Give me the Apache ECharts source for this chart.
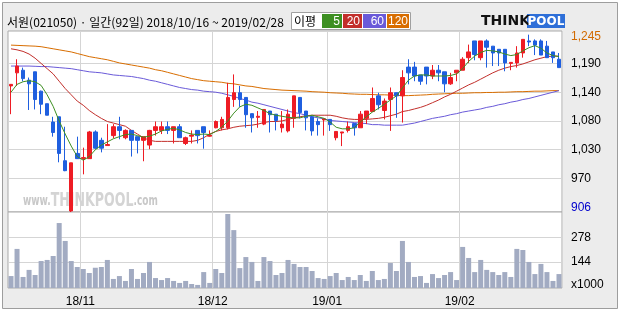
<!DOCTYPE html>
<html><head><meta charset="utf-8">
<script src="https://cdn.jsdelivr.net/npm/echarts/dist/echarts.min.js"></script>
<style>html,body{margin:0;padding:0;background:#fff}#c{width:620px;height:310px}</style>
</head><body><div id="c"></div>
<script>
const dates = [
 '2018/10/16','2018/10/17','2018/10/18','2018/10/19','2018/10/22','2018/10/23','2018/10/24','2018/10/25','2018/10/26','2018/10/29','2018/10/30','2018/10/31',
 '2018/11/01','2018/11/02','2018/11/05','2018/11/06','2018/11/07','2018/11/08','2018/11/09','2018/11/12','2018/11/13','2018/11/14','2018/11/15','2018/11/16','2018/11/19','2018/11/20','2018/11/21','2018/11/22','2018/11/23','2018/11/26','2018/11/27','2018/11/28','2018/11/29','2018/11/30',
 '2018/12/03','2018/12/04','2018/12/05','2018/12/06','2018/12/07','2018/12/10','2018/12/11','2018/12/12','2018/12/13','2018/12/14','2018/12/17','2018/12/18','2018/12/19','2018/12/20','2018/12/21','2018/12/24','2018/12/26','2018/12/27','2018/12/28',
 '2019/01/02','2019/01/03','2019/01/04','2019/01/07','2019/01/08','2019/01/09','2019/01/10','2019/01/11','2019/01/14','2019/01/15','2019/01/16','2019/01/17','2019/01/18','2019/01/21','2019/01/22','2019/01/23','2019/01/24','2019/01/25','2019/01/28','2019/01/29','2019/01/30','2019/01/31',
 '2019/02/01','2019/02/07','2019/02/08','2019/02/11','2019/02/12','2019/02/13','2019/02/14','2019/02/15','2019/02/18','2019/02/19','2019/02/20','2019/02/21','2019/02/22','2019/02/25','2019/02/26','2019/02/27','2019/02/28'
];
const opens = [1147,1172,1177,1158,1174,1137,1113,1078,1088,1004,
 908,1018,1008,1008,1059,1043,1033,1052,1069,1048,
 1062,1050,1043,1034,1062,1062,1069,1062,1069,1037,
 1051,1062,1069,1051,1067,1067,1067,1121,1134,1125,
 1094,1087,1074,1099,1093,1067,1061,1085,1125,1099,
 1088,1079,1082,1083,1048,1057,1062,1075,1067,1085,
 1098,1128,1100,1121,1134,1128,1183,1183,1168,1183,
 1166,1177,1174,1151,1172,1177,1201,1233,1201,1233,
 1223,1217,1217,1190,1191,1210,1233,1233,1233,1223,
 1212,1198];
const closes = [1150,1185,1161,1151,1121,1112,1091,1058,1018,985,
 1000,1008,1010,1059,1028,1028,1035,1069,1062,1062,
 1043,1043,1050,1062,1069,1069,1062,1069,1048,1048,
 1053,1052,1058,1053,1079,1083,1125,1134,1121,1092,
 1086,1089,1102,1092,1081,1074,1093,1128,1096,1086,
 1061,1073,1084,1073,1060,1059,1069,1067,1093,1099,
 1123,1111,1118,1134,1128,1163,1172,1166,1156,1166,
 1177,1172,1151,1163,1177,1198,1212,1207,1233,1221,
 1210,1210,1191,1192,1210,1236,1231,1225,1206,1201,
 1201,1182];
const highs = [1150,1198,1182,1163,1174,1138,1113,1088,1088,1069,
 1000,1050,1029,1061,1062,1048,1074,1074,1088,1064,
 1062,1050,1050,1063,1079,1079,1079,1069,1074,1050,
 1062,1062,1069,1062,1081,1088,1153,1169,1147,1125,
 1094,1099,1102,1099,1093,1099,1102,1128,1125,1099,
 1090,1085,1084,1083,1060,1059,1079,1075,1099,1099,
 1144,1134,1123,1144,1134,1177,1198,1193,1168,1183,
 1187,1187,1174,1172,1177,1202,1226,1233,1233,1236,
 1223,1217,1217,1192,1223,1236,1245,1236,1236,1233,
 1212,1210];
const lows = [1093,1147,1156,1101,1102,1093,1091,1050,1001,984,
 906,1008,978,1008,1026,1020,1033,1047,1045,1045,
 1012,1018,1003,1026,1052,1055,1055,1037,1048,1034,
 1037,1037,1027,1050,1066,1062,1064,1107,1107,1067,
 1058,1067,1072,1058,1062,1058,1058,1067,1085,1062,
 1052,1052,1052,1061,1043,1032,1058,1052,1067,1074,
 1098,1102,1083,1061,1086,1077,1150,1156,1149,1150,
 1160,1156,1135,1149,1156,1177,1191,1196,1196,1182,
 1185,1185,1175,1177,1182,1201,1223,1206,1206,1201,
 1191,1182];
const ma5 = [1135,1150,1155,1157,1155,1148,1130,1108,1080,1055,
 1032,1012,1005,1012,1025,1034,1040,1046,1050,1054,
 1055,1052,1049,1051,1055,1061,1064,1066,1063,1058,
 1055,1054,1055,1054,1060,1068,1080,1095,1107,1112,
 1110,1105,1100,1094,1091,1089,1087,1086,1086,1089,
 1091,1088,1085,1078,1068,1065,1065,1067,1078,1088,
 1097,1104,1112,1120,1128,1143,1158,1166,1168,1168,
 1166,1166,1166,1167,1170,1180,1194,1204,1211,1215,
 1214,1212,1208,1205,1207,1214,1220,1224,1219,1210,
 1205,1203];
const ma20 = [1218,1216,1213,1208,1200,1190,1180,1170,1156,1142,
 1130,1118,1110,1100,1092,1085,1079,1076,1073,1070,
 1062,1055,1048,1043,1041,1041,1041,1041,1041,1041,
 1041,1043,1048,1055,1060,1063,1065,1068,1070,1071,
 1072,1074,1077,1079,1079,1080,1083,1086,1088,1090,
 1091,1091,1091,1091,1089,1086,1084,1083,1083,1083,
 1084,1085,1087,1090,1093,1098,1100,1103,1106,1110,
 1115,1120,1126,1131,1137,1143,1149,1154,1160,1166,
 1172,1177,1181,1184,1186,1189,1193,1197,1200,1203,
 1204,1204];
const ma60 = [1185,1185,1185,1185,1184.5,1184,1184,1183,1182,1181,
 1180,1178,1176,1174,1173,1172,1170,1168,1167,1166,
 1165,1163,1161,1158,1156,1153,1150,1147,1144,1142,
 1140,1139,1137,1136,1135,1133,1130,1127,1123,1120,
 1116,1114,1111,1108,1105,1102,1099,1096,1094,1091,
 1088,1086,1084,1081,1080,1079,1078,1077,1076,1075,
 1073,1073,1072,1072,1072,1072,1074,1076,1079,1082,
 1085,1087,1089,1092,1094,1097,1099,1101,1103,1106,
 1108,1111,1113,1116,1118,1121,1123,1126,1129,1132,
 1135,1138];
const ma120 = [1225,1224.5,1224,1223.5,1223,1222,1220,1218,1216,1214,
 1212,1209,1206,1203,1201,1199,1197,1194,1191,1189,
 1187,1185,1183,1181,1178,1176,1173,1170,1167,1164,
 1161,1159,1157,1156,1155,1154,1152,1151,1149,1147,
 1146,1144,1142,1141,1140,1139,1138.5,1138,1137.5,1137,
 1136,1135.5,1135,1134,1133.5,1133,1132,1131.5,1131,1131,
 1130.5,1130,1130,1129.5,1129,1128.5,1128.5,1129,1129.5,1130,
 1131,1131.5,1132,1132.5,1133,1133,1133.5,1134,1134,1134.5,
 1134.5,1135,1135,1135.5,1136,1136,1136.5,1137,1137,1137.5,
 1138,1138];
const volumes = [66,216,61,100,72,149,155,177,359,260,
 149,116,105,83,112,116,155,50,66,39,
 105,50,83,144,55,44,55,39,28,39,
 22,17,88,28,105,83,409,320,110,171,
 144,39,171,149,72,83,155,133,116,116,
 94,55,50,66,83,44,61,44,72,39,
 94,44,50,138,94,260,144,61,66,28,
 77,55,72,88,44,227,166,88,155,100,
 88,72,88,61,216,210,144,77,133,88,
 39,77];
const priceGridValues = [970, 1025, 1080, 1135, 1190];
const priceGridLabels = ['970', '1,030', '1,080', '1,140', '1,190'];
const priceHigh = 1245, priceHighLabel = '1,245';
const priceLow = 906, priceLowLabel = '906';
const volGridValues = [144, 278];
const volUnitLabel = 'x1000';
const titleText = '서원(021050) · 일간(92일) 2018/10/16 ~ 2019/02/28';
const maNames = ['5', '20', '60', '120'];

const C_UP = '#ee1c24', C_DN = '#1f5fdf';
const MA_COL = ['#3d8f22', '#c22f2b', '#6a5ad9', '#d86d00'];
const GRID_C = '#d5d5d5';

const ohlc = opens.map((o, i) => [o, closes[i], lows[i], highs[i]]);
const monthStart = dates.map((d, i) => i > 0 && d.slice(0, 7) !== dates[i - 1].slice(0, 7));

const chart = echarts.init(document.getElementById('c'), null, {renderer: 'canvas'});
const lbl = {fontFamily: 'Liberation Sans', fontSize: 12, color: '#000'};

const option = {
  backgroundColor: '#fff',
  animation: false,
  grid: [
    {left: 8, top: 31, width: 554, height: 181, show: true, backgroundColor: '#fff', borderColor: '#a9a9a9', borderWidth: 1},
    {left: 8, top: 212, width: 554, height: 76, show: true, backgroundColor: '#fff', borderColor: '#a9a9a9', borderWidth: 1}
  ],
  xAxis: [
    {type: 'category', gridIndex: 0, data: dates, boundaryGap: true,
     axisLine: {show: false}, axisTick: {show: false}, axisLabel: {show: false},
     splitLine: {show: true, interval: (i) => monthStart[i], lineStyle: {color: GRID_C, width: 1}}},
    {type: 'category', gridIndex: 1, data: dates, boundaryGap: true,
     axisLine: {show: false}, axisTick: {show: false},
     axisLabel: Object.assign({}, lbl, {show: true, interval: (i) => monthStart[i], margin: 8, padding: [0, 6, 0, 0],
       formatter: (v) => v.slice(2, 4) + '/' + v.slice(5, 7)}),
     splitLine: {show: true, interval: (i) => monthStart[i], lineStyle: {color: GRID_C, width: 1}}}
  ],
  yAxis: [
    {type: 'value', gridIndex: 0, position: 'right', min: 906, max: 1252,
     axisLine: {show: false}, axisTick: {show: false, customValues: priceGridValues},
     splitLine: {show: true, lineStyle: {color: GRID_C, width: 1}},
     axisLabel: Object.assign({}, lbl, {margin: 9, align: 'left',
       customValues: [priceLow].concat(priceGridValues, [priceHigh]),
       formatter: (v) => {
         if (v === priceHigh) return '{hi|' + priceHighLabel + '}';
         if (v === priceLow) return '{lo|' + priceLowLabel + '}';
         const k = priceGridValues.indexOf(v);
         return k >= 0 ? priceGridLabels[k] : '';
       },
       rich: {
         hi: {color: '#d26a00', fontFamily: 'Liberation Sans', fontSize: 12, padding: [5, 0, 0, 0]},
         lo: {color: '#0000cc', fontFamily: 'Liberation Sans', fontSize: 12, padding: [0, 0, 8, 0]}
       }})},
    {type: 'value', gridIndex: 1, position: 'right', min: 0, max: 420,
     axisLine: {show: false}, axisTick: {show: false, customValues: volGridValues},
     splitLine: {show: true, lineStyle: {color: GRID_C, width: 1}},
     axisLabel: Object.assign({}, lbl, {margin: 9, align: 'left',
       customValues: [0].concat(volGridValues),
       formatter: (v) => v === 0 ? '{u|' + volUnitLabel + '}' : String(v),
       rich: {u: {color: '#000', fontFamily: 'Liberation Sans', fontSize: 12, padding: [0, 0, 6, 0]}}})}
  ],
  series: [
    {type: 'line', name: 'MA120', xAxisIndex: 0, yAxisIndex: 0, data: ma120, symbol: 'none', z: 2,
     lineStyle: {color: MA_COL[3], width: 1}},
    {type: 'line', name: 'MA60', xAxisIndex: 0, yAxisIndex: 0, data: ma60, symbol: 'none', z: 2,
     lineStyle: {color: MA_COL[2], width: 1}},
    {type: 'line', name: 'MA20', xAxisIndex: 0, yAxisIndex: 0, data: ma20, symbol: 'none', z: 2,
     lineStyle: {color: MA_COL[1], width: 1}},
    {type: 'candlestick', xAxisIndex: 0, yAxisIndex: 0, data: ohlc, barWidth: 4, z: 3,
     itemStyle: {color: C_UP, color0: C_DN, borderColor: C_UP, borderColor0: C_DN, borderWidth: 1}},
    {type: 'line', name: 'MA5', xAxisIndex: 0, yAxisIndex: 0, data: ma5, symbol: 'none', z: 4,
     lineStyle: {color: MA_COL[0], width: 1}},
    {type: 'bar', xAxisIndex: 1, yAxisIndex: 1, data: volumes, barWidth: 5,
     itemStyle: {color: '#a2abc2'}}
  ],
  graphic: [
    {type: 'rect', z: -10, shape: {x: 2.5, y: 2.5, width: 615, height: 306},
     style: {fill: '#ececec', stroke: '#9d9d9d', lineWidth: 1}},
    {type: 'text', z: 10, x: 7, y: 22, style: {text: titleText, fontSize: 12, fontFamily: '"Noto Sans CJK KR"', fill: '#000', verticalAlign: 'middle'}},
    {type: 'rect', z: 10, shape: {x: 291.5, y: 12.5, width: 119, height: 17}, style: {fill: '#fff', stroke: '#a0a0a0', lineWidth: 1}},
    {type: 'text', z: 11, x: 294, y: 21.5, style: {text: '이평', fontSize: 12, fontFamily: '"Noto Sans CJK KR"', fill: '#000', verticalAlign: 'middle'}},
    {type: 'rect', z: 11, shape: {x: 322, y: 14, width: 20, height: 14}, style: {fill: MA_COL[0]}},
    {type: 'rect', z: 11, shape: {x: 343, y: 14, width: 19, height: 14}, style: {fill: MA_COL[1]}},
    {type: 'rect', z: 11, shape: {x: 363, y: 14, width: 23, height: 14}, style: {fill: MA_COL[2]}},
    {type: 'rect', z: 11, shape: {x: 387, y: 14, width: 22, height: 14}, style: {fill: MA_COL[3]}},
    {type: 'text', z: 12, x: 340, y: 21.5, style: {text: maNames[0], fontSize: 12, fontFamily: 'Liberation Sans', fill: '#fff', align: 'right', verticalAlign: 'middle'}},
    {type: 'text', z: 12, x: 360, y: 21.5, style: {text: maNames[1], fontSize: 12, fontFamily: 'Liberation Sans', fill: '#fff', align: 'right', verticalAlign: 'middle'}},
    {type: 'text', z: 12, x: 384, y: 21.5, style: {text: maNames[2], fontSize: 12, fontFamily: 'Liberation Sans', fill: '#fff', align: 'right', verticalAlign: 'middle'}},
    {type: 'text', z: 12, x: 408, y: 21.5, style: {text: maNames[3], fontSize: 12, fontFamily: 'Liberation Sans', fill: '#fff', align: 'right', verticalAlign: 'middle'}},
    {type: 'text', z: 12, x: 481, y: 21.5, style: {text: 'THINK', fontSize: 14, fontWeight: 'bold', fontFamily: 'DejaVu Sans', fill: '#111', verticalAlign: 'middle', textShadowColor: '#999', textShadowOffsetX: 1, textShadowOffsetY: 1}},
    {type: 'rect', z: 11, shape: {x: 527, y: 14, width: 38, height: 14}, style: {fill: '#2e6fd8'}},
    {type: 'text', z: 12, x: 546, y: 21.5, style: {text: 'POOL', fontSize: 12, fontWeight: 'bold', fontFamily: 'DejaVu Sans', fill: '#fff', align: 'center', verticalAlign: 'middle'}},
    {type: 'text', z: 1, x: 23, y: 211, scaleY: 1.35,
     style: {text: '{a|www.}{b|THINKPOOL}{a|.com}', verticalAlign: 'bottom',
      rich: {a: {fontSize: 10, fontFamily: 'DejaVu Sans Condensed', fill: '#c8c8c8', fontWeight: 'bold'},
             b: {fontSize: 14, fontFamily: 'DejaVu Sans Condensed', fontWeight: 'bold', fill: '#d4d4d4'}}}}
  ]
};
chart.setOption(option);
</script>
</body></html>
